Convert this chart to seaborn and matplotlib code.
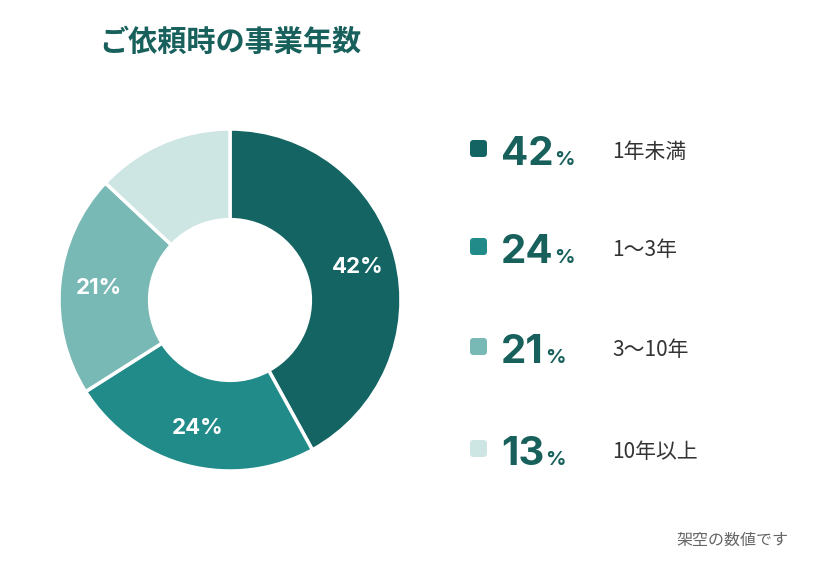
import matplotlib
matplotlib.use("Agg")
import matplotlib.pyplot as plt
from matplotlib.patches import FancyBboxPatch
import seaborn as sns

# data
categories = ["1年未満", "1～3年", "3～10年", "10年以上"]
shares = [42, 24, 21, 13]
colors = ["#136462", "#218b8a", "#78b8b5", "#cde6e4"]
title = "ご依頼時の事業年数"
note = "架空の数値です"

sns.set_theme(style="white")
plt.rcParams['font.family'] = ['Noto Sans CJK JP', 'DejaVu Sans']
num_font = ['Inter', 'Noto Sans CJK JP']
teal = "#17605c"

fig = plt.figure(figsize=(8.2, 5.7), dpi=100)
W, H = 820, 570

# donut
cx, cy, r = 230, 300, 171
ax = fig.add_axes([(cx - r) / W, (H - cy - r) / H, 2 * r / W, 2 * r / H])
# smallest slice gets no label on the ring
wedges, texts, autotexts = ax.pie(
    shares, colors=colors, startangle=90, counterclock=False,
    autopct=lambda p: f"{p:.0f}%" if p >= 15 else "", pctdistance=0.77, radius=1,
    wedgeprops=dict(width=0.53, edgecolor="white", linewidth=2.5),
)
for t in autotexts:
    t.set_color("white")
    t.set_fontsize(16)
    t.set_fontweight("bold")
    t.set_family(num_font)
ax.set_xlim(-1, 1)
ax.set_ylim(-1, 1)
ax.set_aspect("equal")
ax.axis("off")

# overlay in pixel coords
ov = fig.add_axes([0, 0, 1, 1])
ov.set_xlim(0, W)
ov.set_ylim(H, 0)
ov.axis("off")

ov.text(99, 42, title, fontsize=21, fontweight="bold", color=teal,
        va="center", ha="left")

fig.canvas.draw()
renderer = fig.canvas.get_renderer()
rows_y = [150, 248, 348, 450]
for y, c, s, lab in zip(rows_y, colors, shares, categories):
    ov.add_patch(FancyBboxPatch((470, y - 10), 17, 17,
                                boxstyle="round,pad=0,rounding_size=3.5",
                                facecolor=c, edgecolor="none"))
    num = ov.text(501, y + 15, f"{s}", fontsize=29, fontweight="bold", color=teal,
                  va="baseline", ha="left", family=num_font)
    bb = num.get_window_extent(renderer)
    x_end = bb.x1 * W / fig.bbox.width
    ov.text(x_end + 1, y + 15, "%", fontsize=14.5, fontweight="bold", color=teal,
            va="baseline", ha="left", family=num_font)
    ov.text(612, y + 2, lab, fontsize=15, color="#333333", va="center", ha="left")

ov.text(788, 540, note, fontsize=11.5, color="#666666", va="center", ha="right")

fig.savefig("out.png", dpi=100, facecolor="white")
